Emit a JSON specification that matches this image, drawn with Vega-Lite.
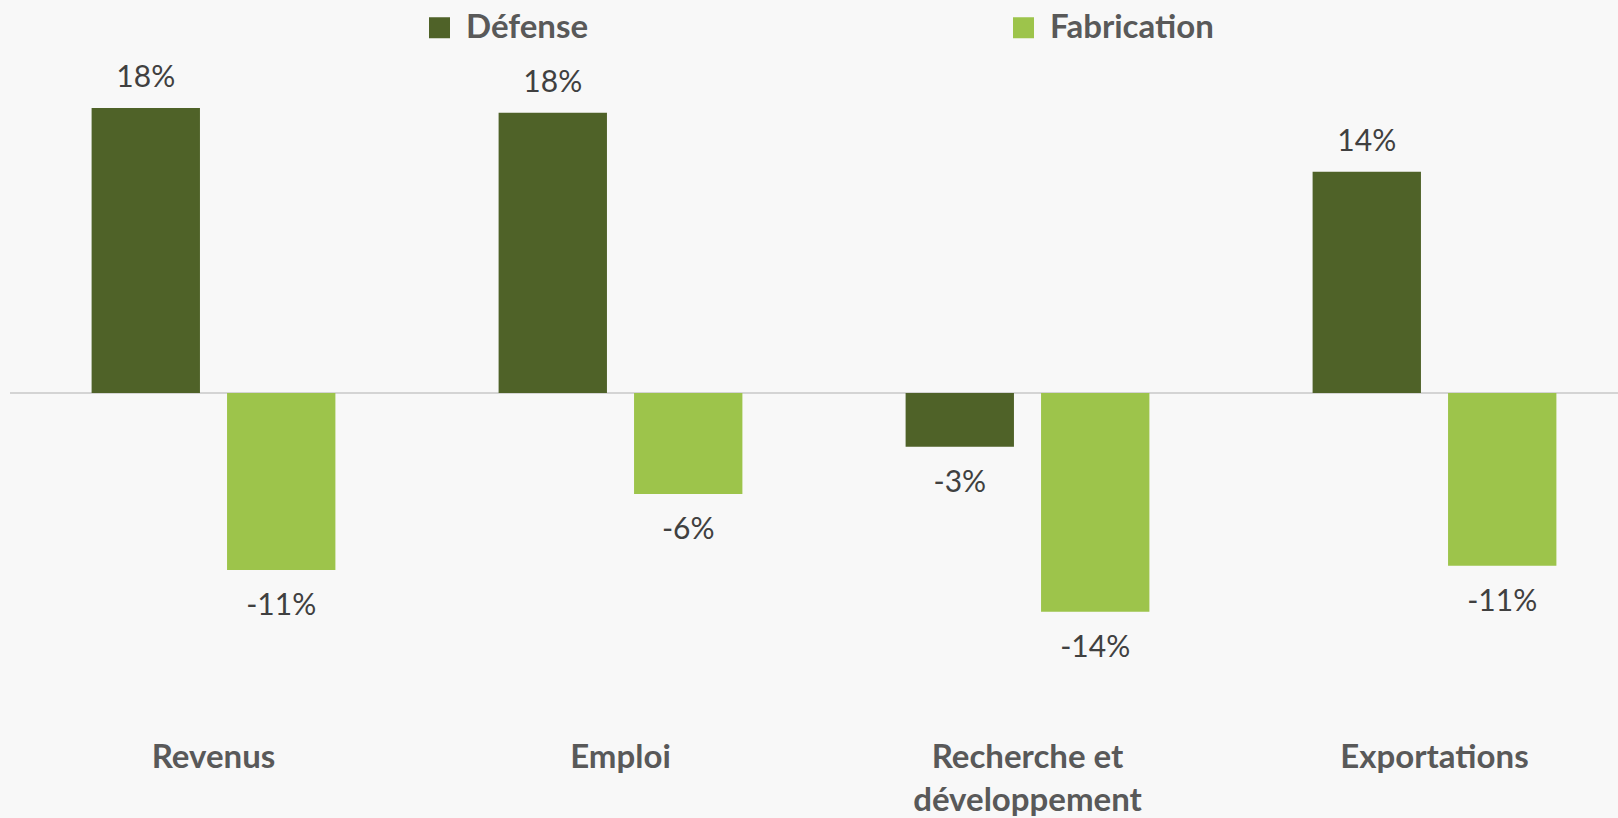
{
  "$schema": "https://vega.github.io/schema/vega-lite/v6.json",
  "width": 1608,
  "height": 648,
  "autosize": {"type": "none"},
  "padding": {"left": 10, "top": 61, "right": 0, "bottom": 109},
  "background": "#f8f8f8",
  "config": {
    "view": {"stroke": null},
    "font": "Lato",
    "locale": {"number": {"decimal": ".", "thousands": ",", "grouping": [3], "currency": ["", ""], "minus": "-"}}
  },
  "data": {
    "values": [
      {"categorie": "Revenus", "serie": "Défense", "valeur": 0.1802},
      {"categorie": "Revenus", "serie": "Fabrication", "valeur": -0.112},
      {"categorie": "Emploi", "serie": "Défense", "valeur": 0.1772},
      {"categorie": "Emploi", "serie": "Fabrication", "valeur": -0.0639},
      {"categorie": "Recherche et développement", "serie": "Défense", "valeur": -0.034},
      {"categorie": "Recherche et développement", "serie": "Fabrication", "valeur": -0.1384},
      {"categorie": "Exportations", "serie": "Défense", "valeur": 0.140},
      {"categorie": "Exportations", "serie": "Fabrication", "valeur": -0.1093}
    ]
  },
  "layer": [
    {
      "data": {"values": [{"zero": 0}]},
      "mark": {"type": "rule", "color": "#d4d4d4", "strokeWidth": 2},
      "encoding": {
        "y": {"field": "zero", "type": "quantitative", "scale": {"domain": [-0.2, 0.21], "nice": false}, "axis": null}
      }
    },
    {
      "mark": {"type": "bar"},
      "encoding": {
        "x": {
          "field": "categorie", "type": "nominal",
          "sort": ["Revenus", "Emploi", "Recherche et développement", "Exportations"],
          "scale": {"range": [0, 1628], "paddingInner": 0.401, "paddingOuter": 0.2005},
          "title": null,
          "axis": {
            "domain": false, "ticks": false, "grid": false, "labelAngle": 0,
            "labelFontSize": 33, "labelFontWeight": "bold", "labelColor": "#595959",
            "labelBaseline": "alphabetic", "labelPadding": 58, "labelLineHeight": 43,
            "labelLimit": 0,
            "labelExpr": "datum.label == 'Recherche et développement' ? ['Recherche et', 'développement'] : datum.label"
          }
        },
        "xOffset": {"field": "serie", "type": "nominal", "sort": ["Défense", "Fabrication"], "scale": {"paddingInner": 0.2, "paddingOuter": 0}},
        "y": {"field": "valeur", "type": "quantitative", "scale": {"domain": [-0.2, 0.21], "nice": false}, "axis": null},
        "color": {
          "field": "serie", "type": "nominal",
          "scale": {"domain": ["Défense", "Fabrication"], "range": ["#4f6228", "#9dc44b"]},
          "legend": {
            "orient": "none", "legendX": 413, "legendY": -50, "direction": "horizontal",
            "title": null, "symbolType": "square", "symbolSize": 441, "symbolStrokeWidth": 0,
            "labelFontSize": 33, "labelFontWeight": "bold", "labelColor": "#595959",
            "labelOffset": 10, "columnPadding": 418, "labelLimit": 400
          }
        }
      }
    },
    {
      "transform": [{"filter": "datum.valeur >= 0"}],
      "mark": {"type": "text", "baseline": "alphabetic", "dy": -21, "fontSize": 30, "color": "#404040"},
      "encoding": {
        "x": {"field": "categorie", "type": "nominal", "sort": ["Revenus", "Emploi", "Recherche et développement", "Exportations"]},
        "xOffset": {"field": "serie", "type": "nominal", "sort": ["Défense", "Fabrication"]},
        "y": {"field": "valeur", "type": "quantitative"},
        "text": {"field": "valeur", "type": "quantitative", "format": ".0%"}
      }
    },
    {
      "transform": [{"filter": "datum.valeur < 0"}],
      "mark": {"type": "text", "baseline": "alphabetic", "dy": 45, "fontSize": 30, "color": "#404040"},
      "encoding": {
        "x": {"field": "categorie", "type": "nominal", "sort": ["Revenus", "Emploi", "Recherche et développement", "Exportations"]},
        "xOffset": {"field": "serie", "type": "nominal", "sort": ["Défense", "Fabrication"]},
        "y": {"field": "valeur", "type": "quantitative"},
        "text": {"field": "valeur", "type": "quantitative", "format": ".0%"}
      }
    }
  ]
}
